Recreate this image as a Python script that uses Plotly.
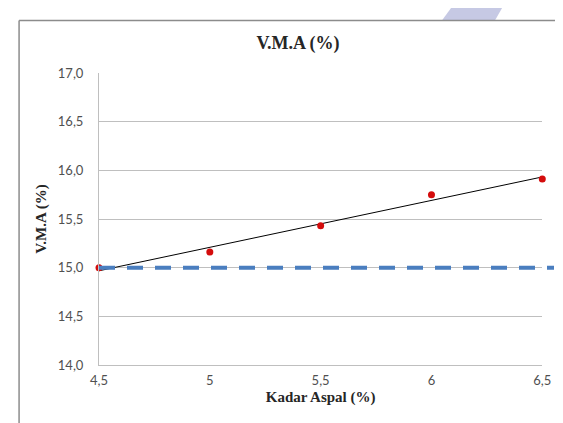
import numpy as np
import plotly.graph_objects as go

# ---- data ----
kadar_aspal = [4.5, 5.0, 5.5, 6.0, 6.5]
vma = [15.00, 15.16, 15.43, 15.75, 15.91]
vma_min_spec = 15.0
x_tickvals = [4.5, 5.0, 5.5, 6.0, 6.5]
x_ticktext = ["4,5", "5", "5,5", "6", "6,5"]
y_tickvals = [14.0, 14.5, 15.0, 15.5, 16.0, 16.5, 17.0]
y_ticktext = ["14,0", "14,5", "15,0", "15,5", "16,0", "16,5", "17,0"]

# ---- layout geometry (pixels) ----
W, H = 563, 423
ML, MR, MT, MB = 91, 5, 65, 66
PW = W - ML - MR
plot_right_px = 543          # where the gridlines end
dash_right_px = 555          # where the spec line ends
x_range = [4.5, 6.5]
d1 = (plot_right_px - ML) / PW
d2 = (dash_right_px - ML) / PW
px_per_unit = (plot_right_px - ML) / (x_range[1] - x_range[0])
x2_end = x_range[0] + (dash_right_px - ML) / px_per_unit

def px_x(p):
    return (p - ML) / PW

def px_y(p):
    return 1 - (p - MT) / (H - MT - MB)

# trend line (linear least squares of the data)
coef = np.polyfit(kadar_aspal, vma, 1)
trend_x = [kadar_aspal[0], kadar_aspal[-1]]
trend_y = list(np.polyval(coef, trend_x))

fig = go.Figure()

fig.add_trace(go.Scatter(
    x=trend_x, y=trend_y, mode="lines",
    line=dict(color="#000000", width=1),
    showlegend=False))

fig.add_trace(go.Scatter(
    x=kadar_aspal, y=vma, mode="markers",
    marker=dict(color="#d40c0c", size=7),
    cliponaxis=False, showlegend=False))

fig.add_trace(go.Scatter(
    x=[kadar_aspal[0], x2_end], y=[vma_min_spec, vma_min_spec],
    mode="lines", xaxis="x2", yaxis="y2",
    line=dict(color="#4a7ebf", width=4, dash="16px,12px"),
    hoverinfo="skip", showlegend=False))

tick_font = dict(family="Lato, Carlito, sans-serif", size=13, color="#505050")
title_font = dict(family="Liberation Serif, Times New Roman, serif", size=15, color="#262626")

fig.update_layout(
    width=W, height=H,
    margin=dict(l=ML, r=MR, t=MT, b=MB),
    paper_bgcolor="white", plot_bgcolor="rgba(0,0,0,0)",
    showlegend=False,
    title=dict(text="<b>V.M.A (%)</b>", xref="container", x=290 / W, xanchor="center",
               yref="container", y=1 - 35 / H, yanchor="middle",
               font=dict(family="Liberation Serif, Times New Roman, serif", size=18, color="#262626")),
    xaxis=dict(domain=[0, d1], range=x_range, tickvals=x_tickvals, ticktext=x_ticktext,
               showgrid=False, zeroline=False, showline=True, linecolor="#bfbfbf", linewidth=1,
               ticks="", tickfont=tick_font, ticklabelstandoff=3,
               title=dict(text="<b>Kadar Aspal (%)</b>", font=title_font, standoff=4)),
    yaxis=dict(range=[14.0, 17.0], tickvals=y_tickvals, ticktext=y_ticktext,
               showgrid=True, gridcolor="#bfbfbf", gridwidth=1, zeroline=False,
               showline=True, linecolor="#bfbfbf", linewidth=1,
               ticks="", tickfont=tick_font, ticklabelstandoff=12,
               title=dict(text="<b>V.M.A (%)</b>", font=title_font, standoff=7)),
    xaxis2=dict(domain=[0, d2], range=[x_range[0], x2_end], anchor="y2",
                visible=False, showgrid=False, zeroline=False),
    yaxis2=dict(range=[14.0, 17.0], anchor="x2", overlaying="y",
                visible=False, showgrid=False, zeroline=False),
    shapes=[
        # outer chart frame (cropped at right/bottom)
        dict(type="line", xref="paper", yref="paper",
             x0=px_x(9.5), x1=px_x(570), y0=px_y(12.5), y1=px_y(12.5),
             line=dict(color="#8c8c8c", width=1.5)),
        dict(type="line", xref="paper", yref="paper",
             x0=px_x(9.5), x1=px_x(9.5), y0=px_y(12.5), y1=px_y(430),
             line=dict(color="#8c8c8c", width=1.5)),
        # page watermark fragment
        dict(type="path", xref="paper", yref="paper",
             path="M {} {} L {} {} L {} {} L {} {} Z".format(
                 px_x(450), px_y(0), px_x(502), px_y(0),
                 px_x(495), px_y(12), px_x(441), px_y(12)),
             fillcolor="#c6c9e4", line=dict(width=0), layer="below"),
    ],
)

fig.write_html("out.html")
